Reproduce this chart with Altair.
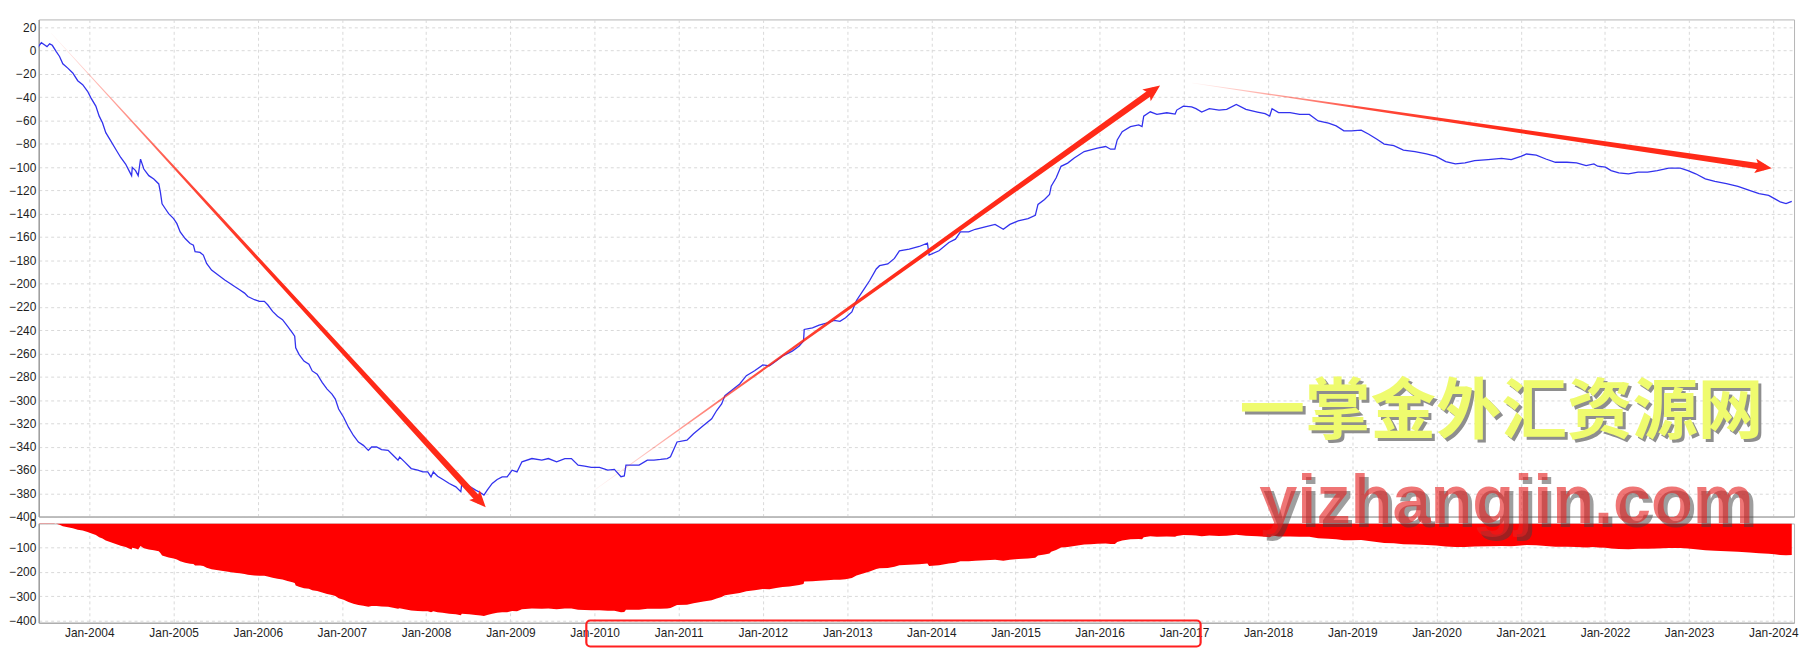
import altair as alt
import pandas as pd
from datetime import datetime

# ---------------- data ----------------
eq_year = [
    2003.353, 2003.373, 2003.431, 2003.471, 2003.498, 2003.529, 2003.561, 2003.608, 2003.647, 2003.686,
    2003.745, 2003.804, 2003.863, 2003.922, 2003.980, 2004.020, 2004.078, 2004.118, 2004.157, 2004.196,
    2004.255, 2004.314, 2004.373, 2004.431, 2004.471, 2004.502, 2004.510, 2004.549, 2004.580, 2004.608,
    2004.647, 2004.706, 2004.765, 2004.824, 2004.843, 2004.863, 2004.902, 2004.941, 2005.000, 2005.039,
    2005.078, 2005.137, 2005.196, 2005.235, 2005.255, 2005.314, 2005.353, 2005.392, 2005.451, 2005.529,
    2005.608, 2005.667, 2005.725, 2005.784, 2005.843, 2005.882, 2005.961, 2006.020, 2006.078, 2006.118,
    2006.176, 2006.235, 2006.294, 2006.353, 2006.412, 2006.439, 2006.451, 2006.490, 2006.549, 2006.608,
    2006.647, 2006.706, 2006.765, 2006.824, 2006.882, 2006.922, 2006.961, 2007.020, 2007.078, 2007.137,
    2007.196, 2007.255, 2007.314, 2007.353, 2007.412, 2007.471, 2007.549, 2007.608, 2007.667, 2007.686,
    2007.745, 2007.824, 2007.902, 2007.961, 2008.020, 2008.059, 2008.086, 2008.137, 2008.196, 2008.275,
    2008.353, 2008.412, 2008.424, 2008.510, 2008.588, 2008.647, 2008.686, 2008.725, 2008.784, 2008.843,
    2008.902, 2008.961, 2009.020, 2009.078, 2009.137, 2009.255, 2009.373, 2009.451, 2009.549, 2009.647,
    2009.725, 2009.804, 2009.882, 2009.961, 2010.059, 2010.157, 2010.235, 2010.314, 2010.353, 2010.373,
    2010.471, 2010.529, 2010.627, 2010.706, 2010.784, 2010.863, 2010.902, 2010.980, 2011.098, 2011.176,
    2011.294, 2011.392, 2011.451, 2011.510, 2011.549, 2011.627, 2011.725, 2011.804, 2011.902, 2012.000,
    2012.078, 2012.157, 2012.235, 2012.314, 2012.353, 2012.431, 2012.482, 2012.490, 2012.588, 2012.667,
    2012.765, 2012.843, 2012.914, 2012.980, 2013.055, 2013.110, 2013.188, 2013.267, 2013.345, 2013.384,
    2013.482, 2013.561, 2013.620, 2013.737, 2013.855, 2013.953, 2013.973, 2014.090, 2014.208, 2014.286,
    2014.345, 2014.443, 2014.522, 2014.639, 2014.757, 2014.855, 2014.933, 2015.031, 2015.149, 2015.235,
    2015.267, 2015.345, 2015.404, 2015.424, 2015.482, 2015.541, 2015.620, 2015.698, 2015.816, 2015.894,
    2015.973, 2016.071, 2016.129, 2016.180, 2016.208, 2016.267, 2016.365, 2016.463, 2016.502, 2016.522,
    2016.600, 2016.678, 2016.796, 2016.894, 2016.914, 2016.992, 2017.090, 2017.142, 2017.210, 2017.301,
    2017.416, 2017.507, 2017.621, 2017.735, 2017.872, 2017.963, 2018.018, 2018.046, 2018.123, 2018.260,
    2018.374, 2018.489, 2018.594, 2018.717, 2018.808, 2018.900, 2018.991, 2019.105, 2019.196, 2019.288,
    2019.379, 2019.493, 2019.607, 2019.744, 2019.881, 2019.995, 2020.110, 2020.224, 2020.338, 2020.452,
    2020.612, 2020.772, 2020.886, 2021.000, 2021.068, 2021.183, 2021.297, 2021.411, 2021.548, 2021.662,
    2021.776, 2021.868, 2021.913, 2022.005, 2022.073, 2022.164, 2022.279, 2022.393, 2022.507, 2022.621,
    2022.758, 2022.895, 2022.986, 2023.078, 2023.192, 2023.306, 2023.443, 2023.580, 2023.717, 2023.831,
    2023.945, 2024.014, 2024.082, 2024.151, 2024.219,
]
eq_value = [
    0.0, 1.1, 6.8, 4.8, 3.4, 5.7, 4.5, -0.9, -5.1, -11.4,
    -15.1, -19.3, -25.9, -29.3, -35.0, -40.6, -47.7, -56.3, -62.0, -70.5,
    -77.6, -84.7, -91.8, -97.4, -103.1, -107.4, -100.3, -103.1, -107.4, -93.2,
    -101.7, -107.4, -110.2, -114.5, -121.6, -131.5, -135.8, -140.0, -144.3, -148.6,
    -155.7, -161.4, -165.6, -167.0, -172.7, -173.3, -175.6, -182.7, -188.4, -192.6,
    -196.9, -199.7, -202.6, -205.4, -208.2, -211.1, -213.9, -215.3, -215.3, -218.2,
    -223.9, -228.1, -231.0, -236.6, -242.3, -245.2, -255.1, -260.8, -266.5, -269.3,
    -275.0, -277.8, -284.9, -290.6, -294.9, -299.2, -307.7, -314.8, -323.3, -330.4,
    -336.1, -338.9, -343.2, -340.3, -340.3, -342.6, -343.2, -347.4, -351.7, -348.9,
    -353.1, -358.8, -360.2, -361.7, -361.7, -365.9, -361.7, -365.4, -368.0, -371.6,
    -374.5, -378.7, -371.6, -373.9, -377.3, -379.6, -381.6, -377.3, -371.6, -368.2,
    -365.9, -365.9, -360.2, -361.7, -353.0, -350.2, -351.6, -350.2, -353.0, -350.2,
    -350.2, -355.9, -356.7, -357.8, -357.8, -360.1, -359.5, -365.8, -365.2, -355.9,
    -355.9, -355.9, -351.6, -351.6, -351.0, -350.2, -348.7, -336.0, -334.5, -328.9,
    -321.8, -316.1, -309.0, -303.3, -296.2, -291.9, -286.2, -279.1, -274.9, -269.8,
    -270.6, -266.4, -262.1, -259.3, -257.8, -253.6, -249.3, -239.4, -238.0, -235.7,
    -233.7, -231.7, -232.4, -229.4, -224.4, -214.5, -206.0, -197.4, -187.5, -184.7,
    -183.2, -178.4, -171.9, -170.5, -168.2, -165.3, -175.6, -171.9, -164.8, -161.9,
    -155.7, -155.7, -153.4, -151.4, -149.2, -153.4, -149.2, -146.3, -144.3, -141.5,
    -132.1, -127.8, -123.6, -116.5, -109.4, -99.4, -96.6, -92.3, -86.7, -85.2,
    -83.8, -82.4, -84.7, -84.7, -76.7, -69.6, -65.3, -63.9, -65.3, -56.3,
    -52.6, -54.8, -53.4, -54.5, -51.1, -47.7, -48.3, -49.9, -52.8, -49.9,
    -51.1, -50.5, -46.2, -50.5, -52.8, -54.2, -56.2, -49.9, -53.3, -53.3,
    -54.8, -54.8, -60.4, -62.4, -64.7, -68.9, -68.9, -68.4, -71.8, -76.0,
    -80.3, -81.7, -85.4, -86.8, -88.8, -90.8, -95.3, -97.3, -96.5, -94.5,
    -93.6, -92.5, -93.6, -90.8, -88.8, -89.7, -93.1, -95.9, -95.9, -96.5,
    -98.7, -97.3, -99.3, -100.1, -103.0, -105.0, -105.8, -104.4, -104.4, -103.0,
    -101.0, -101.0, -103.0, -105.8, -110.1, -112.3, -114.3, -116.6, -120.0, -122.8,
    -124.3, -127.1, -129.9, -131.4, -129.4,
]

# hand-drawn trend arrows (start -> head), in data units
arrow_start_year = [2003.549, 2010.000, 2017.099]
arrow_start_value = [14.7, -377.2, -27.9]
arrow_end_year = [2008.635, 2016.629, 2023.876]
arrow_end_value = [-386.4, -34.6, -99.9]

# red highlight box round the 2010..2017 labels
box_year = [2009.902, 2017.197]
box_value = [-400, -507]

# watermark texts
wm_cn = "一掌金外汇资源网"
wm_en = "yizhangjin.com"
wm_cn_year, wm_cn_value = 2020.77, -328.6
wm_en_year, wm_en_value = 2020.83, 2.9

x_domain_year = [2003.40, 2024.246]
top_domain = [-400, 26.7]
bottom_domain = [-409, 0]
top_ticks = list(range(-400, 21, 20))
bottom_ticks = [-400, -300, -200, -100, 0]


# ---------------- helpers ----------------
def to_dt(t):
    y = int(t)
    a, b = datetime(y, 1, 1), datetime(y + 1, 1, 1)
    return a + (b - a) * (t - y)


def iso(t):
    return to_dt(t).strftime("%Y-%m-%dT%H:%M:%S")


def dtobj(t):
    d = to_dt(t)
    return alt.DateTime(year=d.year, month=d.month, date=d.day, hours=d.hour, minutes=d.minute)


BLUE = "#3232ee"
RED = "#ff2a18"
FONT = "Liberation Sans"
W = 1769

df = pd.DataFrame({"date": [iso(t) for t in eq_year], "value": eq_value})

x_scale = alt.Scale(domain=[dtobj(x_domain_year[0]), dtobj(x_domain_year[1])], nice=False)
top_y_scale = alt.Scale(domain=top_domain, nice=False, zero=False)
bot_y_scale = alt.Scale(domain=bottom_domain, nice=False, zero=False)
year_step = {"interval": "year", "step": 1}

top_x_axis = alt.Axis(labels=False, ticks=False, domain=True, grid=True, tickCount=year_step, title=None)
top_y_axis = alt.Axis(values=top_ticks, tickCount=60, ticks=False, labelPadding=3, grid=True, title=None,
                      domainWidth=1.5, labelOverlap=False, labelFlush=False)
bot_x_axis = alt.Axis(format="%b-%Y", tickCount=year_step, ticks=False, labelPadding=5, grid=True,
                      title=None, labelFlush=False, labelOverlap=False)
bot_y_axis = alt.Axis(values=bottom_ticks, tickCount=20, ticks=False, labelPadding=3, grid=True, title=None,
                      domainWidth=1.5, labelOverlap=False, labelFlush=False)

# ---------------- top panel ----------------
line = alt.Chart(df).mark_line(color=BLUE, strokeWidth=1.3, clip=True).encode(
    x=alt.X("date:T", scale=x_scale, axis=top_x_axis),
    y=alt.Y("value:Q", scale=top_y_scale, axis=top_y_axis),
)

grad_dirs = [(0, 0, 1, 1), (0, 1, 1, 0), (0, 0, 1, 0)]
arrow_layers = []
for i in range(3):
    x1, y1, x2, y2 = grad_dirs[i]
    grad = alt.LinearGradient(
        gradient="linear",
        stops=[
            alt.GradientStop(offset=0, color="rgba(255,42,24,0.04)"),
            alt.GradientStop(offset=0.3, color="rgba(255,42,24,0.85)"),
            alt.GradientStop(offset=0.55, color=RED),
            alt.GradientStop(offset=1, color=RED),
        ],
        x1=x1, y1=y1, x2=x2, y2=y2,
    )
    adf = pd.DataFrame({
        "date": [iso(arrow_start_year[i]), iso(arrow_end_year[i])],
        "value": [arrow_start_value[i], arrow_end_value[i]],
        "w": [0.4, 6.5],
    })
    arrow_layers.append(
        alt.Chart(adf).mark_trail(color=grad).encode(
            x=alt.X("date:T", scale=x_scale),
            y=alt.Y("value:Q", scale=top_y_scale),
            size=alt.Size("w:Q", scale=None, legend=None),
        )
    )

head_df = pd.DataFrame({
    "date": [iso(t) for t in arrow_end_year],
    "value": arrow_end_value,
    "angle": [137.4, 54.5, 98.3],
})
heads = alt.Chart(head_df).mark_point(
    shape="M0,-1L0.8,0.85L0,0.45L-0.8,0.85Z", filled=True, color=RED, opacity=1, size=330, strokeWidth=0
).encode(
    x=alt.X("date:T", scale=x_scale),
    y=alt.Y("value:Q", scale=top_y_scale),
    angle=alt.Angle("angle:Q", scale=None),
)

cn_df = pd.DataFrame({"date": [iso(wm_cn_year)], "value": [wm_cn_value], "t": [wm_cn]})
cn_shadow = alt.Chart(cn_df).mark_text(
    font="Noto Sans CJK SC", fontSize=66, fontWeight="bold", color="#8e8e8e",
    align="center", baseline="alphabetic", dx=3, dy=3,
).encode(x=alt.X("date:T", scale=x_scale), y=alt.Y("value:Q", scale=top_y_scale), text="t:N")
cn_text = alt.Chart(cn_df).mark_text(
    font="Noto Sans CJK SC", fontSize=66, fontWeight="bold", color="#effb6e",
    align="center", baseline="alphabetic",
).encode(x=alt.X("date:T", scale=x_scale), y=alt.Y("value:Q", scale=top_y_scale), text="t:N")

top = alt.layer(line, *arrow_layers, heads, cn_shadow, cn_text).properties(width=W, height=501)

# ---------------- bottom panel ----------------
area = alt.Chart(df).mark_area(color="#ff0000", clip=True, opacity=1).encode(
    x=alt.X("date:T", scale=x_scale, axis=bot_x_axis),
    y=alt.Y("value:Q", scale=bot_y_scale, axis=bot_y_axis),
    y2=alt.datum(0),
)

box_df = pd.DataFrame({
    "d1": [iso(box_year[0])], "d2": [iso(box_year[1])],
    "v1": [box_value[0]], "v2": [box_value[1]],
})
box = alt.Chart(box_df).mark_rect(
    fillOpacity=0, stroke="#ff2020", strokeWidth=2.2, cornerRadius=4
).encode(
    x=alt.X("d1:T", scale=x_scale), x2="d2:T",
    y=alt.Y("v1:Q", scale=bot_y_scale), y2="v2:Q",
)

en_df = pd.DataFrame({"date": [iso(wm_en_year)], "value": [wm_en_value], "t": [wm_en]})
en_shadow = alt.Chart(en_df).mark_text(
    font=FONT, fontSize=69, fontWeight="bold", color="#404040", opacity=0.5,
    align="center", baseline="alphabetic", dx=4, dy=4,
).encode(x=alt.X("date:T", scale=x_scale), y=alt.Y("value:Q", scale=bot_y_scale), text="t:N")
en_text = alt.Chart(en_df).mark_text(
    font=FONT, fontSize=69, fontWeight="bold", color="#e62222", opacity=0.62,
    align="center", baseline="alphabetic",
).encode(x=alt.X("date:T", scale=x_scale), y=alt.Y("value:Q", scale=bot_y_scale), text="t:N")

bottom = alt.layer(area, box, en_shadow, en_text).properties(width=W, height=100)

chart = alt.vconcat(top, bottom, spacing=7, bounds="flush").properties(
    padding={"left": 0, "top": 8, "right": 0, "bottom": 2},
    background="white",
).configure_view(
    stroke="#b4b4b4", strokeWidth=1
).configure_axis(
    labelFont=FONT, labelFontSize=12, labelColor="#1e1e1e",
    gridColor="#d9d9d9", gridDash=[3, 3], gridWidth=1,
    domainColor="#a0a0a0", tickColor="#a0a0a0",
)

chart.save("out.html", embed_options={"renderer": "svg", "actions": False})
